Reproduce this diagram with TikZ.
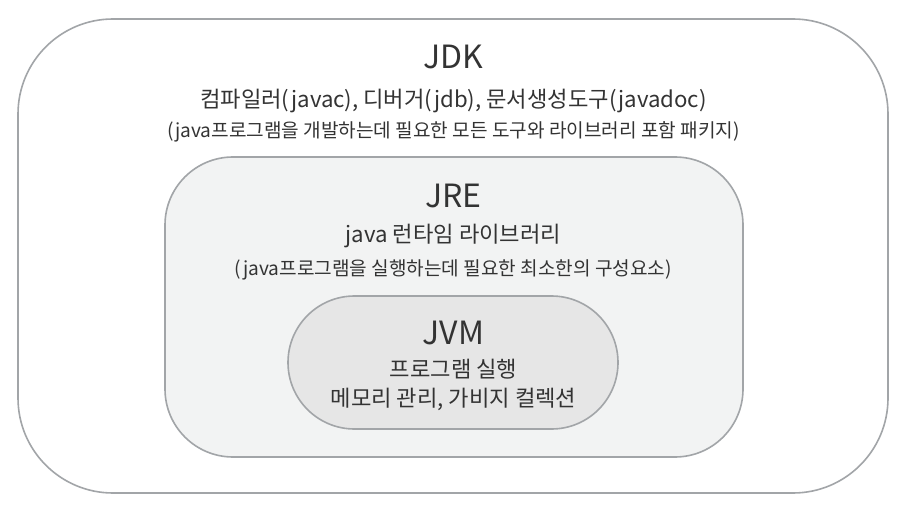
\documentclass[tikz,border=0pt]{standalone}
\usepackage{fontspec}
\setmainfont{Noto Sans CJK KR}
\definecolor{bordergray}{HTML}{A2A5A8}
\definecolor{midfill}{HTML}{F2F3F3}
\definecolor{innerfill}{HTML}{E6E6E6}
\definecolor{txt}{HTML}{333333}
\tikzset{
  boxline/.style={draw=bordergray, line width=1.6pt},
  title/.style={font=\fontsize{32}{36}\selectfont, text=txt, inner sep=0pt},
  sub/.style={font=\fontsize{22.2}{26}\selectfont, text=txt, inner sep=0pt},
  note/.style={font=\fontsize{19.1}{23}\selectfont, text=txt, inner sep=0pt},
}
\begin{document}
\begin{tikzpicture}[x=1pt,y=-1pt]
\useasboundingbox[fill=white] (0,0) rectangle (907,513);
% outer JDK box
\draw[boxline, fill=white, rounded corners=95pt] (18,19) rectangle (888,493);
% JRE box
\draw[boxline, fill=midfill, rounded corners=68pt] (165,157) rectangle (743,457);
% JVM stadium
\draw[boxline, fill=innerfill, rounded corners=66.5pt] (288,296) rectangle (618,429);
% JDK texts
\node[title] (jdk) at (453.5,57) {JDK};
\node[sub] (jdktools) at (453.5,101) {컴파일러(javac), 디버거(jdb), 문서생성도구(javadoc)};
\node[note] (jdknote) at (453.5,132) {(java프로그램을 개발하는데 필요한 모든 도구와 라이브러리 포함 패키지)};
% JRE texts
\node[title] (jre) at (453.5,196) {JRE};
\node[sub] (jrelib) at (453.5,236) {java 런타임 라이브러리};
\node[note] (jrenote) at (453.5,270) {(java프로그램을 실행하는데 필요한 최소한의 구성요소)};
% JVM texts
\node[title] (jvm) at (453.5,333) {JVM};
\node[sub] (jvmrun) at (453.5,369) {프로그램 실행};
\node[sub] (jvmmem) at (453.5,399) {메모리 관리, 가비지 컬렉션};
\end{tikzpicture}
\end{document}
